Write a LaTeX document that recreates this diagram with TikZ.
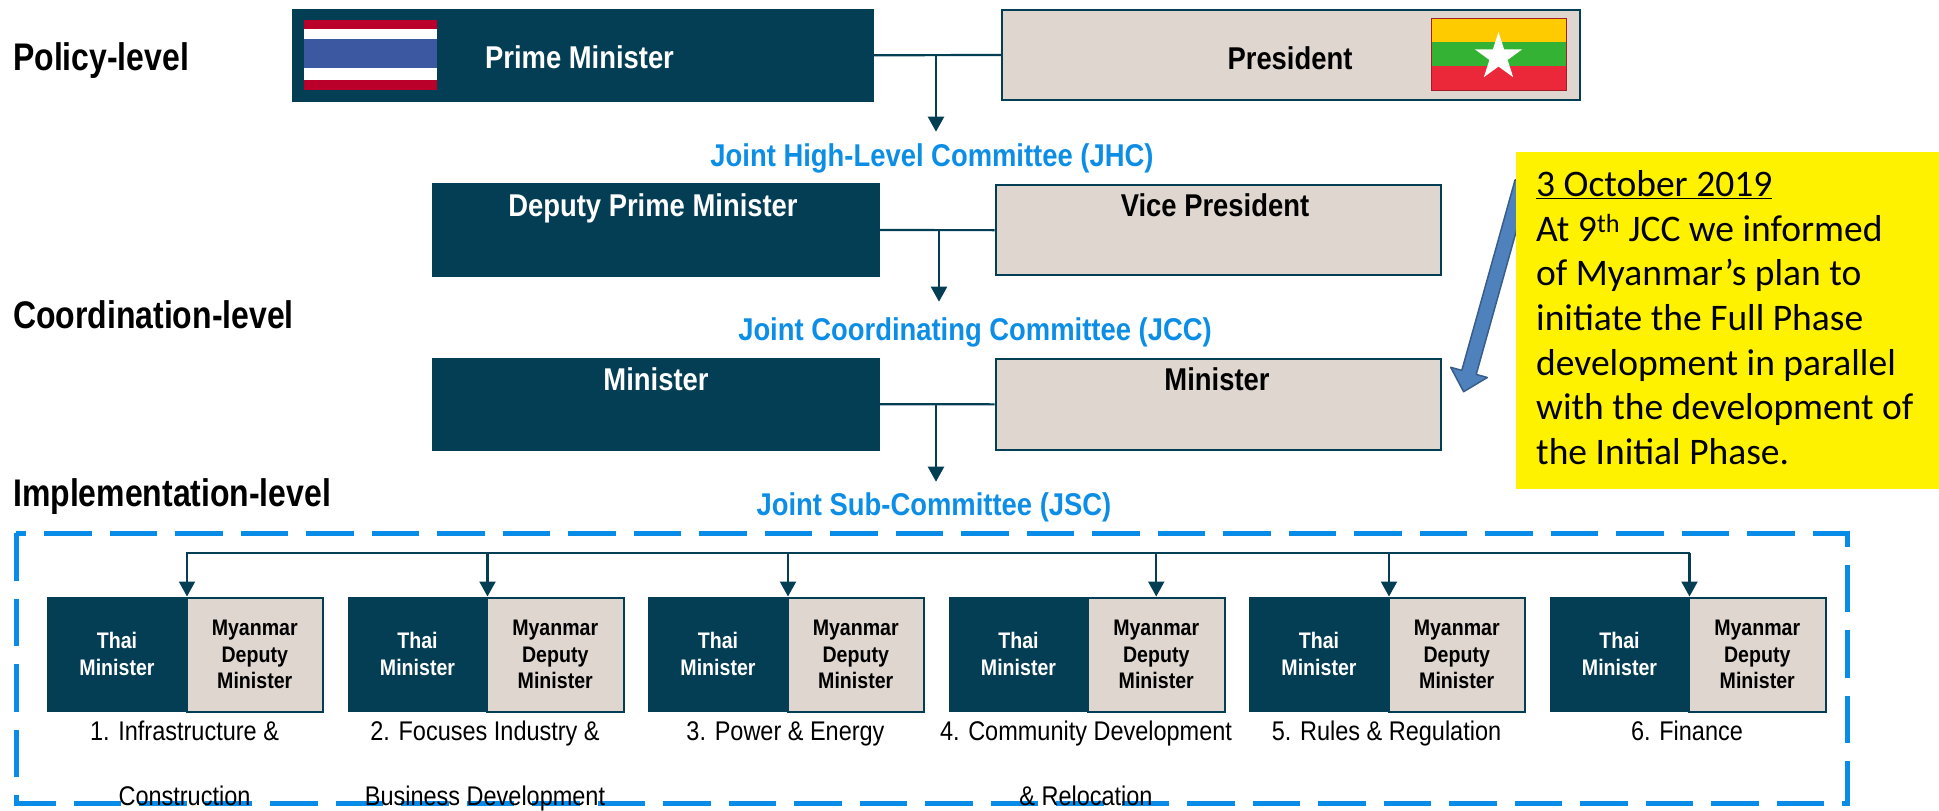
\documentclass[tikz,border=0pt]{standalone}
\usepackage{fontspec}
\setmainfont{Liberation Sans}
\newfontfamily\narfont[FakeStretch=0.87]{Liberation Sans}
\newfontfamily\lvlfont[FakeStretch=0.83]{Liberation Sans}
\newfontfamily\calfont{Carlito}
\usetikzlibrary{arrows.meta,shapes.geometric}
\definecolor{dteal}{RGB}{4,62,85}
\definecolor{beige}{RGB}{222,214,207}
\definecolor{cblue}{RGB}{12,142,230}
\definecolor{dashblue}{RGB}{8,140,232}
\definecolor{thred}{RGB}{186,0,42}
\definecolor{thblue}{RGB}{60,88,160}
\definecolor{myyel}{RGB}{254,203,0}
\definecolor{mygreen}{RGB}{52,178,51}
\definecolor{myred}{RGB}{234,40,57}
\definecolor{arrfill}{RGB}{79,129,189}
\definecolor{arrdraw}{RGB}{56,93,138}
\begin{document}
\begin{tikzpicture}[x=1pt,y=-1pt,
  darkbox/.style={rectangle, draw=dteal, fill=dteal, line width=1.5pt, inner sep=0pt, anchor=north west},
  lightbox/.style={rectangle, draw=dteal, fill=beige, line width=2pt, inner sep=0pt, anchor=north west},
  boxwhite/.style={font=\narfont\bfseries\fontsize{31.5}{36}\selectfont, text=white, inner sep=0pt, anchor=base},
  boxblack/.style={font=\narfont\bfseries\fontsize{31.5}{36}\selectfont, text=black, inner sep=0pt, anchor=base},
  committee/.style={font=\narfont\bfseries\fontsize{31.5}{36}\selectfont, text=cblue, inner sep=0pt, anchor=base},
  lvl/.style={font=\lvlfont\bfseries\fontsize{38.5}{44}\selectfont, inner sep=0pt, anchor=base west},
  smalldark/.style={darkbox, minimum width=138.5pt, minimum height=114pt, align=center, text=white, font=\narfont\bfseries\fontsize{22.5}{26.8}\selectfont},
  smalllight/.style={lightbox, minimum width=136.5pt, minimum height=114pt, align=center, text=black, font=\narfont\bfseries\fontsize{22.5}{26.8}\selectfont},
  sublab/.style={font=\narfont\fontsize{27}{30}\selectfont, inner sep=0pt, anchor=base},
  yel/.style={font=\calfont\fontsize{37.5}{44}\selectfont, inner sep=0pt, anchor=base west},
  conn/.style={draw=dteal, line width=2.2pt},
  arr/.style={draw=dteal, line width=2.2pt, -{Triangle[width=16pt,length=15pt]}}
]
\useasboundingbox (0,0) rectangle (1939,811);

% level labels
\node[lvl] (pol) at (13,70) {Policy-level};
\node[lvl] (coo) at (13,328.3) {Coordination-level};
\node[lvl] (imp) at (13,506.7) {Implementation-level};

% policy level
\node[darkbox, minimum width=580pt, minimum height=91pt] (pm) at (292,9) {};
\fill[thred] (304,20) rectangle (437,90);
\fill[white] (304,29.3) rectangle (437,80);
\fill[thblue] (304,39.3) rectangle (437,68.3);
\node[boxwhite] (pmt) at (579.5,68.3) {Prime Minister};

\node[lightbox, minimum width=578pt, minimum height=90pt] (pres) at (1001,9) {};
\fill[myyel] (1431,18.3) rectangle (1566,42.3);
\fill[mygreen] (1431,42.3) rectangle (1566,66.3);
\fill[myred] (1431,66.3) rectangle (1566,90);
\draw[myred!70!black, line width=0.8pt] (1431,18.3) rectangle (1566,90);
\node[star, star points=5, star point ratio=2.618, minimum size=50pt, inner sep=0pt, fill=white] (star) at (1498.5,57) {};
\node[boxblack] (prest) at (1290,69) {President};

\draw[conn] (pm.east) -- (pres.west);
\coordinate (t1) at (936,131.7);
\draw[arr] (t1 |- pm.east) -- (t1);
\node[committee] (jhc) at (932,166) {Joint High-Level Committee (JHC)};

% JHC level
\node[darkbox, minimum width=447pt, minimum height=92pt] (dpm) at (431.5,183.3) {};
\node[boxwhite] (dpmt) at (653,216.7) {Deputy Prime Minister};
\node[lightbox, minimum width=445pt, minimum height=90.3pt] (vp) at (994.6,184) {};
\node[boxblack] (vpt) at (1215,216.7) {Vice President};
\draw[conn] (dpm.east) -- (vp.west);
\coordinate (t2) at (939,301.7);
\draw[arr] (t2 |- dpm.east) -- (t2);
\node[committee] (jcc) at (975,340) {Joint Coordinating Committee (JCC)};

% JCC level
\node[darkbox, minimum width=447pt, minimum height=91.6pt] (mind) at (431.5,357.7) {};
\node[boxwhite] (mindt) at (656,390.7) {Minister};
\node[lightbox, minimum width=445pt, minimum height=90.7pt] (minl) at (994.6,358) {};
\node[boxblack] (minlt) at (1217,390.7) {Minister};
\draw[conn] (mind.east) -- (minl.west);
\coordinate (t3) at (936,481.7);
\draw[arr] (t3 |- mind.east) -- (t3);
\node[committee] (jsc) at (934,515) {Joint Sub-Committee (JSC)};

% blue block arrow (behind the note)
\fill[arrfill, draw=arrdraw, line width=1.5pt, line join=round]
  (1515.1,179.8) -- (1461.8,370.4) -- (1450.7,367.3) -- (1463.6,391.7)
  -- (1487.3,377.5) -- (1476.2,374.4) -- (1529.5,183.8) -- cycle;

% note
\node[rectangle, fill=yellow, anchor=north west, minimum width=430pt, minimum height=336.6pt, inner sep=0pt] (note) at (1516,151.7) {};
\node[yel] (n1) at (1536,196.7) {\underline{3 October 2019}};
\node[yel] (n2) at (1536,241.3) {At 9\textsuperscript{th} JCC we informed};
\node[yel] (n3) at (1536,285.9) {of Myanmar’s plan to};
\node[yel] (n4) at (1536,330.5) {initiate the Full Phase};
\node[yel] (n5) at (1536,375.1) {development in parallel};
\node[yel] (n6) at (1536,419.7) {with the development of};
\node[yel] (n7) at (1536,464.3) {the Initial Phase.};

% implementation frame
\draw[dashblue, line width=5pt, dash pattern=on 47.5pt off 18pt] (16,533.3) rectangle (1847.2,803.3);

% sub-committees
\foreach \i/\la/\lb in {1/{1. Infrastructure \&}/{Construction},
                        2/{2. Focuses Industry \&}/{Business Development},
                        3/{3. Power \& Energy}/{},
                        4/{4. Community Development}/{\& Relocation},
                        5/{5. Rules \& Regulation}/{},
                        6/{6. Finance}/{}}{
  \pgfmathsetmacro{\L}{47+300.5*(\i-1)}
  \node[smalldark] (th\i) at (\L,596.5) {Thai\\Minister};
  \node[smalllight] (my\i) at (\L+138.5,596.5) {Myanmar\\Deputy\\Minister};
  \node[sublab] (la\i) at (\L+137.5,740) {\la};
  \node[sublab] (lb\i) at (\L+137.5,805) {\lb};
}
\coordinate (dl) at (185.5,552.7);
\coordinate (dr) at (1690,552.7);
\draw[conn] (dl) -- (dr);
\foreach \i in {1,2,3,5,6}{
  \draw[arr] (th\i.north east |- dl) -- (th\i.north east);
}
\draw[arr] (my4.north |- dl) -- (my4.north);
\end{tikzpicture}
\end{document}
